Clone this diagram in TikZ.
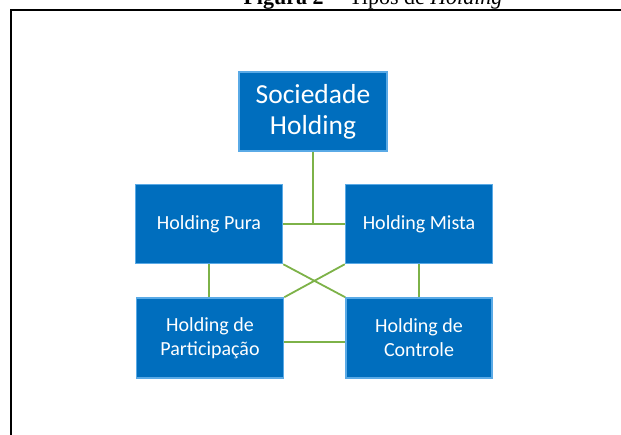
\documentclass[tikz,border=0pt]{standalone}
\usepackage{fontspec}
\setmainfont{Carlito}
\newfontfamily\titlefont{Liberation Serif}
\usepackage{xcolor}
\definecolor{boxblue}{RGB}{0,110,190}
\definecolor{boxedge}{RGB}{90,170,230}
\definecolor{linegreen}{RGB}{125,178,72}
\tikzset{
  tipo/.style={rectangle, fill=boxblue, draw=boxedge, line width=1.5pt, text=white, align=center,
    minimum width=147pt, minimum height=79pt, inner sep=0pt, font=\fontsize{20}{24}\selectfont},
  liga/.style={draw=linegreen, line width=1.8pt}
}

\begin{document}
\begin{tikzpicture}[x=1pt, y=-1pt]

    \useasboundingbox (0,0) rectangle (621,435);

    % Title (cut by the page)
    \node[anchor=base, inner sep=0pt, font=\titlefont\fontsize{22}{26}\selectfont] (titulo) at (373,5)
        {\textbf{Figura 2} -- Tipos de \textit{Holding}};

    % Frame
    \draw[line width=2pt] (11,440) -- (11,10) -- (626,10);

    % Boxes
    \node[tipo, minimum width=148pt, font=\fontsize{27.5}{31}\selectfont] (soc) at (313,111.5) {Sociedade\\Holding};
    \node[tipo] (pura) at (209,224) {Holding Pura};
    \node[tipo] (mista) at (419,224) {Holding Mista};
    \node[tipo, minimum height=80pt] (part) at (210,338) {Holding de\\Participação};
    \node[tipo, minimum height=80pt, minimum width=146pt] (ctrl) at (419,338) {Holding de\\Controle};

    % Links
    \coordinate (meio) at (soc.south |- pura.east);
    \draw[liga] (soc.south) -- (meio);
    \draw[liga] (pura.east) -- (mista.west);
    \draw[liga] (pura.south) -- (pura.south |- part.north);
    \draw[liga] (mista.south) -- (mista.south |- ctrl.north);
    \draw[liga] (pura.south east) -- (ctrl.north west);
    \draw[liga] (mista.south west) -- (part.north east);
    \draw[liga] ([yshift=-4pt]part.east) -- ([yshift=-4pt]ctrl.west);

\end{tikzpicture}
\end{document}
